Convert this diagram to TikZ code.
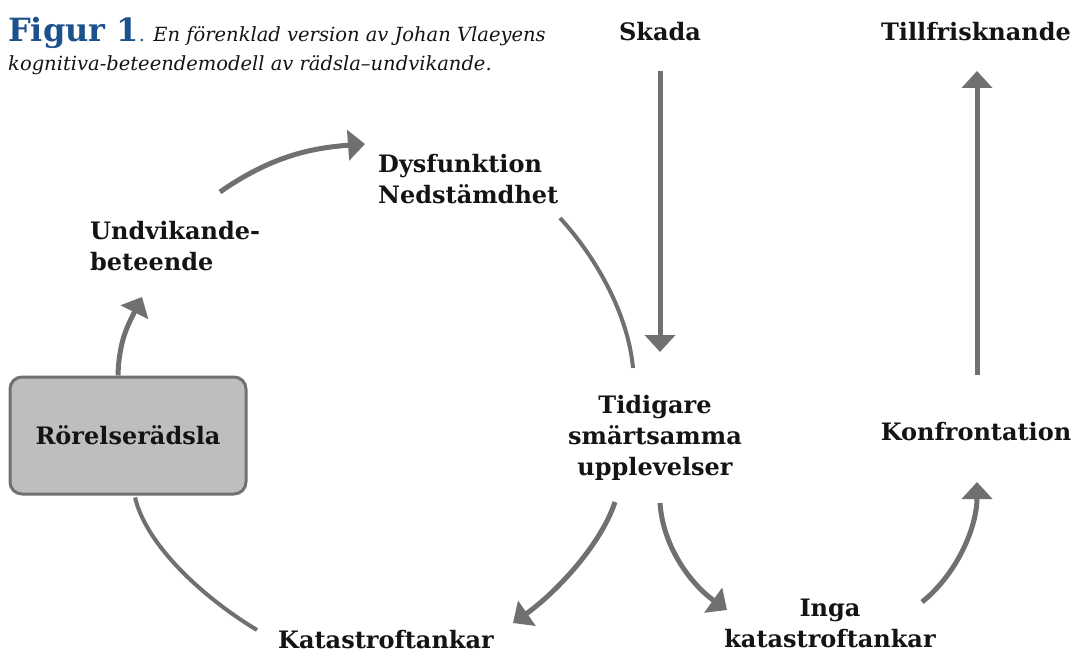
\documentclass[tikz,border=0pt]{standalone}
\usepackage{fontspec}
\setmainfont{DejaVu Serif}
\usepackage{tikz}
\usetikzlibrary{
    positioning,
    arrows.meta,
    calc
}
\definecolor{CycleGray}{RGB}{112,112,112}
\definecolor{FearFill}{RGB}{190,190,193}
\definecolor{TitleBlue}{RGB}{28,82,140}
\definecolor{ConceptInk}{RGB}{20,20,20}
\tikzset{
    concept/.style={font=\bfseries\fontsize{24}{31}\selectfont, text=ConceptInk, align=center, inner sep=0pt},
    conceptleft/.style={concept, align=left},
    fearbox/.style={concept, draw=CycleGray, line width=3pt, fill=FearFill, rounded corners=12pt, minimum width=236pt, minimum height=117pt},
    caption/.style={font=\itshape\fontsize{19.5}{24}\selectfont, text=ConceptInk, inner sep=0pt},
    cyclearrow/.style={-{Triangle[length=17pt,width=30pt]}, line width=5pt, draw=CycleGray},
    cyclearc/.style={line width=4pt, draw=CycleGray}
}

\begin{document}
\begin{tikzpicture}[x=1pt, y=-1pt]
    \useasboundingbox (0,0) rectangle (1075,655);
    % caption
    \node[caption, anchor=base west] (figtitle) at (8,42) {{\upshape\bfseries\fontsize{32}{32}\selectfont\color{TitleBlue}Figur 1}{\upshape\color{TitleBlue}.} En förenklad version av Johan Vlaeyens};
    \node[caption, anchor=base west] (figcap) at (8,71) {kognitiva-beteendemodell av rädsla–undvikande.};
    % concepts
    \node[concept] (skada) at (660,32) {Skada};
    \node[concept] (till) at (976,32) {Tillfrisknande};
    \node[conceptleft, anchor=west] (dysf) at (378,179) {Dysfunktion\\Nedstämdhet};
    \node[conceptleft, anchor=west] (undv) at (90,246) {Undvikande-\\beteende};
    \node[fearbox] (fear) at (128,435.5) {Rörelserädsla};
    \node[concept] (tid) at (655,438) {Tidigare\\smärtsamma\\upplevelser};
    \node[concept] (konfr) at (976,432) {Konfrontation};
    \node[concept] (kata) at (386,640) {Katastroftankar};
    \node[concept] (inga) at (830,623) {Inga\\katastroftankar};
    % fear-avoidance loop
    \draw[cyclearrow] ([shift={(-10,0)}]fear.north) .. controls +(1,-35) and +(-14,28) .. ([shift={(52,51)}]undv.west);
    \draw[cyclearrow] ([shift={(130,-54)}]undv.west) .. controls +(50,-35) and +(-55,4) .. ([shift={(-13,-35)}]dysf.west);
    \draw[cyclearc] ([shift={(182,39)}]dysf.west) .. controls +(35,38) and +(-5,-55) .. ([shift={(-22,-70)}]tid.center);
    \draw[cyclearrow] ([shift={(-40,64)}]tid.center) .. controls +(-15,45) and +(40,-28) .. ([shift={(127,-17)}]kata.center);
    \draw[cyclearc] ([shift={(7,2)}]fear.south) .. controls +(12,50) and +(-50,-30) .. ([shift={(-129,-10)}]kata.center);
    % recovery path
    \draw[cyclearrow] ([shift={(0,39)}]skada.center) -- ([shift={(5,-86)}]tid.center);
    \draw[cyclearrow] ([shift={(5,65)}]tid.center) .. controls +(3,45) and +(-35,-25) .. ([shift={(-103,-13)}]inga.center);
    \draw[cyclearrow] ([shift={(92,-21)}]inga.center) .. controls +(35,-28) and +(0,45) .. ([shift={(1,50)}]konfr.center);
    \draw[cyclearrow] ([shift={(1,-57)}]konfr.center) -- ([shift={(1,39)}]till.center);
\end{tikzpicture}
\end{document}
